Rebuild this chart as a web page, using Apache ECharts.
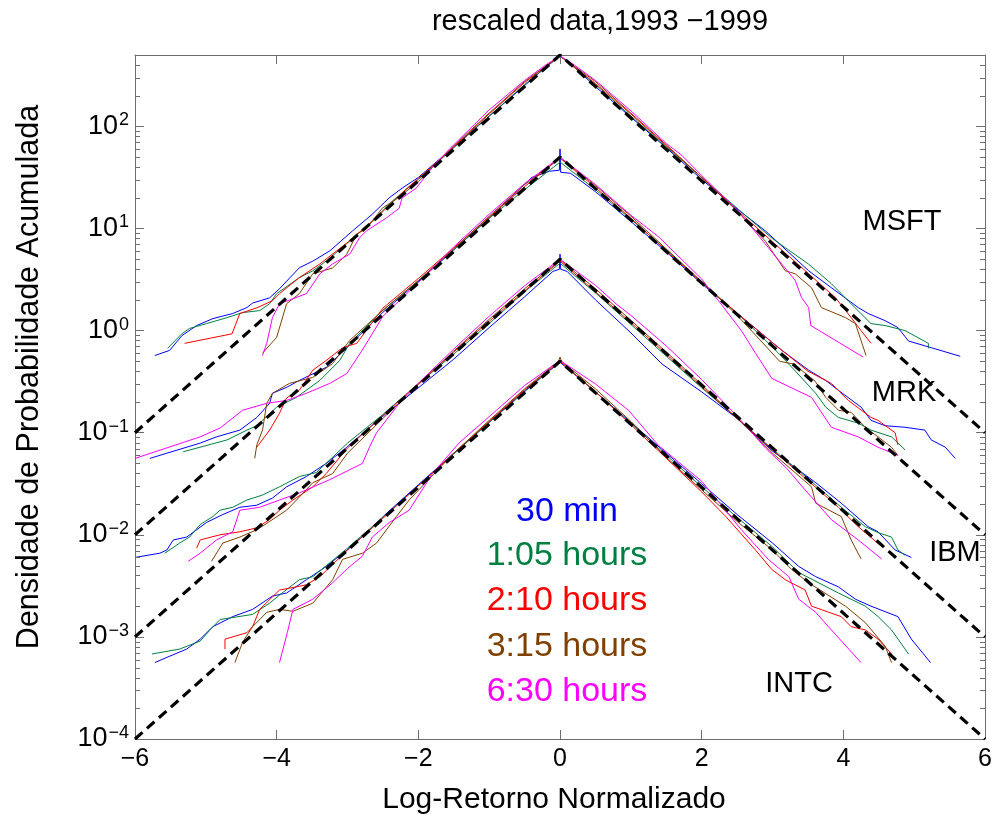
<!DOCTYPE html>
<html><head><meta charset="utf-8">
<script src="https://cdn.jsdelivr.net/npm/echarts@6/dist/echarts.min.js"></script>
<style>html,body{margin:0;padding:0;background:#fff}#c{width:995px;height:819px}</style>
</head><body><div id="c"></div>
<script>
const FONT = '"Liberation Sans", Arial, Helvetica, sans-serif';
const timeScales = ['30 min', '1:05 hours', '2:10 hours', '3:15 hours', '6:30 hours'];
const scaleColors = ['#0000ff', '#008040', '#ff0000', '#804000', '#ff00ff'];
const stocks = ['MSFT', 'MRK', 'IBM', 'INTC'];
const xTickValues = [-6, -4, -2, 0, 2, 4, 6];
const minorMantissas = [2, 3, 4, 5, 6, 7, 8, 9];
const minorDecades = [1e-4, 1e-3, 1e-2, 1e-1, 1, 10, 100];

// MSFT (shifted x1000)
const MSFT_30min = [[-5.72,0.57],[-5.51,0.64],[-5.34,0.89],[-5.13,1.12],[-4.9,1.31],[-4.62,1.47],[-4.42,1.68],[-4.34,1.86],[-4.1,2.09],[-3.96,2.57],[-3.68,4.12],[-3.49,4.79],[-3.25,6.03],[-2.93,9.46],[-2.65,13.8],[-2.41,20],[-2.23,24.8],[-2,31.6],[-1.5,63],[-1,126],[-0.5,251],[-0.2,380],[0,490],[0.2,380],[0.5,245],[1,123],[1.5,61.7],[2,30.2],[2.5,15.5],[2.9,9.46],[3.51,3.85],[3.83,2.63],[4.21,1.68],[4.35,1.47],[4.59,1.25],[4.77,1.07],[4.92,0.79],[5.24,0.68],[5.65,0.56]];
const MSFT_105h = [[-5.54,0.67],[-5.34,0.93],[-5.23,1.05],[-4.99,1.17],[-4.7,1.34],[-4.48,1.5],[-4.24,1.57],[-4.1,1.83],[-4,2.3],[-3.68,3.3],[-3.49,3.85],[-3.3,4.8],[-3.01,7.1],[-2.65,11.8],[-2.37,18.5],[-2,30.2],[-1.5,61.7],[-1,126],[-0.5,257],[0,490],[0.5,257],[1,126],[1.5,63],[2,31.6],[2.5,15.8],[3,7.94],[3.51,4.47],[3.83,2.88],[4.07,1.95],[4.39,1.17],[4.59,1.12],[4.87,1.0],[5.2,0.75],[5.2,0.67]];
const MSFT_210h = [[-5.3,0.75],[-4.63,0.93],[-4.52,1.47],[-4.28,1.67],[-4.06,1.96],[-3.96,2.3],[-3.68,3.3],[-3.39,4.5],[-3.01,7.2],[-2.6,12.6],[-2.2,23.4],[-2,30.9],[-1.5,63],[-1,132],[-0.5,269],[0,490],[0.5,263],[1,132],[1.5,64.6],[2,31.6],[2.5,15.1],[3,7.4],[3.51,3.6],[3.89,2.09],[4.11,1.34],[4.25,1.0],[4.39,0.75]];
const MSFT_315h = [[-4.2,0.6],[-4,0.86],[-3.86,1.83],[-3.68,2.3],[-3.49,3.6],[-3.21,4.1],[-3.01,5.6],[-2.87,8.8],[-2.73,10],[-2.51,15.8],[-2.31,19.4],[-2,28.8],[-1.5,64.6],[-1,135],[-0.5,275],[0,490],[0.5,275],[1,135],[1.5,66],[2,31.6],[2.5,14.8],[2.9,7.5],[3.18,3.85],[3.32,3.6],[3.55,2.63],[3.69,1.68],[4.03,1.34],[4.17,1.17],[4.32,0.57]];
const MSFT_630h = [[-4.2,0.57],[-4.14,0.75],[-4.06,1.34],[-3.96,1.83],[-3.58,2.3],[-3.39,3.6],[-3.21,4.5],[-2.97,5.6],[-2.83,8.1],[-2.73,9.5],[-2.45,12.7],[-2.27,15.8],[-2.23,19.9],[-2.03,24.8],[-1.8,40],[-1.56,60],[-1,145],[-0.5,282],[-0.2,400],[0,490],[0.2,400],[0.5,282],[1,142],[1.5,68],[1.72,52],[2,33],[2.5,15.2],[2.94,6.5],[3.32,3.1],[3.41,2.1],[3.51,1.68],[3.54,1.12],[4.28,0.55]];

// MRK (shifted x100)
const MRK_30min = [[-5.79,0.056],[-5.55,0.063],[-5.08,0.079],[-4.85,0.091],[-4.52,0.106],[-4.28,0.141],[-4.1,0.194],[-4.06,0.243],[-3.86,0.278],[-3.68,0.325],[-3.3,0.437],[-3.01,0.68],[-2.5,1.51],[-2,3.02],[-1.5,6.17],[-1,12.6],[-0.4,31.6],[-0.15,36.3],[-0.01,37.2],[0,60],[0.01,35.5],[0.15,34.7],[0.5,22.9],[1,11.7],[1.5,5.9],[2,2.88],[2.5,1.48],[3.13,0.64],[3.51,0.41],[3.75,0.325],[3.93,0.26],[4.25,0.178],[4.39,0.132],[4.59,0.117],[4.87,0.113],[5.15,0.106],[5.24,0.085],[5.44,0.072],[5.58,0.056]];
const MRK_105h = [[-5.32,0.065],[-4.7,0.085],[-4.42,0.106],[-4.28,0.117],[-4,0.178],[-3.72,0.222],[-3.39,0.325],[-3.11,0.51],[-2.97,0.75],[-2.5,1.58],[-2,3.09],[-1.5,6.17],[-1,12.6],[-0.5,24],[0,44.7],[0.5,24],[1,12.3],[1.5,6.17],[2,2.95],[2.5,1.48],[3,0.69],[3.3,0.417],[3.61,0.243],[3.75,0.178],[3.93,0.141],[4.21,0.124],[4.39,0.106],[4.68,0.091],[4.87,0.068]];
const MRK_210h = [[-4.28,0.072],[-4.1,0.106],[-3.96,0.155],[-3.86,0.219],[-3.68,0.26],[-3.49,0.41],[-3.3,0.51],[-3.07,0.68],[-2.87,0.75],[-2.5,1.66],[-2,3.24],[-1.5,6.46],[-1,12.9],[-0.5,25.7],[0,49],[0.5,25.1],[1,12.6],[1.5,6.03],[2,2.95],[2.5,1.48],[3,0.76],[3.5,0.4],[3.83,0.304],[4.07,0.207],[4.39,0.141],[4.49,0.132],[4.73,0.1],[4.77,0.076]];
const MRK_315h = [[-4.31,0.056],[-4.28,0.076],[-4.2,0.106],[-4.14,0.194],[-4.06,0.243],[-3.82,0.304],[-3.49,0.348],[-3.21,0.476],[-2.97,0.8],[-2.5,1.58],[-2,3.09],[-1.5,6.31],[-1,13.2],[-0.5,26.9],[0,49],[0.5,26.3],[1,13.2],[1.5,6.31],[2,3.02],[2.5,1.41],[2.9,0.71],[3.1,0.5],[3.3,0.47],[3.6,0.32],[3.75,0.222],[3.93,0.166],[4.11,0.158],[4.31,0.113],[4.49,0.091],[4.68,0.072],[4.77,0.06]];
const MRK_630h = [[-6,0.056],[-5.55,0.071],[-5.08,0.091],[-4.8,0.111],[-4.48,0.166],[-4.14,0.194],[-3.86,0.207],[-3.58,0.243],[-3.25,0.304],[-3.01,0.38],[-2.8,0.63],[-2.5,1.38],[-2,2.95],[-1.5,6.61],[-1,13.8],[-0.5,27.5],[0,50],[0.5,27],[1,13.5],[1.39,8.3],[2,3.2],[2.24,1.95],[2.56,1.0],[2.76,0.6],[2.99,0.34],[3.55,0.222],[3.83,0.113],[4.21,0.091],[4.49,0.072],[4.77,0.06]];

// IBM (shifted x10)
const IBM_30min = [[-6,0.006],[-5.65,0.0066],[-5.55,0.0071],[-5.46,0.0089],[-5.27,0.0095],[-4.99,0.0132],[-4.76,0.0158],[-4.52,0.0186],[-4.28,0.0195],[-4.06,0.0229],[-3.86,0.0295],[-3.58,0.0372],[-3.3,0.05],[-3.01,0.072],[-2.73,0.106],[-2.45,0.155],[-2,0.275],[-1.5,0.525],[-1,1.07],[-0.5,2.14],[-0.1,3.8],[-0.01,3.98],[0,5.6],[0.01,3.98],[0.1,3.8],[0.5,2.0],[1,0.95],[1.44,0.47],[2,0.251],[2.5,0.138],[3,0.066],[3.61,0.0324],[3.97,0.0204],[4.35,0.012],[4.49,0.0107],[4.73,0.0071],[4.96,0.006]];
const IBM_105h = [[-5.58,0.0066],[-5.37,0.0083],[-5.23,0.0095],[-5.08,0.0126],[-4.9,0.0151],[-4.8,0.0174],[-4.62,0.0186],[-4.42,0.0219],[-4.2,0.0245],[-3.96,0.0295],[-3.68,0.0372],[-3.44,0.0407],[-3,0.079],[-2.5,0.151],[-2,0.302],[-1.5,0.589],[-1,1.17],[-0.5,2.4],[0,4.57],[0.5,2.34],[1,1.15],[1.5,0.562],[2,0.275],[2.5,0.138],[3,0.069],[3.5,0.0355],[3.97,0.0186],[4.31,0.012],[4.49,0.0105],[4.68,0.0095],[4.77,0.0071],[4.87,0.0063]];
const IBM_210h = [[-5.13,0.0074],[-5.08,0.0089],[-4.8,0.01],[-4.52,0.0107],[-4.28,0.0117],[-4.1,0.0141],[-3.96,0.0174],[-3.77,0.0219],[-3.49,0.0295],[-3.3,0.0398],[-3,0.0708],[-2.5,0.148],[-2,0.302],[-1.5,0.617],[-1,1.23],[-0.5,2.45],[0,4.79],[0.5,2.4],[1,1.2],[1.5,0.589],[2,0.282],[2.5,0.138],[3,0.0676],[3.5,0.0339],[3.93,0.0186],[4.21,0.012],[4.52,0.0079]];
const IBM_315h = [[-4.92,0.0055],[-4.76,0.0083],[-4.52,0.0095],[-4.28,0.0112],[-4.1,0.0135],[-3.86,0.0174],[-3.68,0.0234],[-3.49,0.0324],[-3.21,0.0398],[-3,0.063],[-2.5,0.138],[-2,0.295],[-1.5,0.631],[-1,1.29],[-0.5,2.57],[0,4.9],[0.5,2.57],[1,1.26],[1.5,0.617],[2,0.295],[2.5,0.138],[3,0.063],[3.55,0.0295],[3.61,0.0204],[3.97,0.0151],[4.11,0.0089],[4.25,0.0058]];
const IBM_630h = [[-5.25,0.0055],[-5.08,0.0066],[-4.85,0.0089],[-4.62,0.0107],[-4.52,0.0174],[-4.24,0.0186],[-3.96,0.0219],[-3.68,0.0257],[-3.25,0.0347],[-2.79,0.05],[-2.69,0.072],[-2.59,0.1],[-2.2,0.224],[-1.5,0.66],[-1,1.38],[-0.5,2.75],[0,5.0],[0.5,2.78],[0.79,1.83],[1,1.41],[1.5,0.708],[2,0.331],[2.5,0.145],[2.9,0.0708],[3.2,0.0447],[3.46,0.0275],[3.83,0.0141],[4.21,0.0089],[4.54,0.0058]];

// INTC (unshifted)
const INTC_30min = [[-5.72,0.00056],[-5.55,0.00063],[-5.27,0.00076],[-5.08,0.00095],[-4.9,0.00126],[-4.62,0.00158],[-4.34,0.00186],[-4.06,0.00251],[-3.86,0.00269],[-3.58,0.00363],[-3.3,0.0049],[-3.01,0.00708],[-2.73,0.0105],[-2.45,0.0162],[-2,0.0309],[-1.5,0.063],[-1,0.126],[-0.5,0.257],[0,0.49],[0.5,0.251],[1,0.126],[1.5,0.063],[2,0.0316],[2.5,0.0158],[3,0.0083],[3.37,0.0049],[3.61,0.00389],[3.93,0.00309],[4.17,0.00234],[4.39,0.002],[4.77,0.00158],[4.96,0.00095],[5.23,0.00056]];
const INTC_105h = [[-5.76,0.00068],[-5.37,0.00076],[-5.08,0.00091],[-4.94,0.00117],[-4.8,0.00148],[-4.34,0.00166],[-4.1,0.00214],[-3.96,0.00257],[-3.68,0.00363],[-3.49,0.00389],[-3,0.0074],[-2.5,0.0148],[-2,0.0302],[-1.5,0.0617],[-1,0.126],[-0.5,0.251],[0,0.5],[0.5,0.251],[1,0.123],[1.5,0.0603],[2,0.0295],[2.5,0.0148],[3,0.0076],[3.37,0.00427],[3.93,0.00269],[4.31,0.002],[4.49,0.00158],[4.68,0.00117],[4.92,0.00068]];
const INTC_210h = [[-4.73,0.00076],[-4.73,0.00095],[-4.42,0.0011],[-4.34,0.00126],[-4.24,0.00186],[-3.96,0.00288],[-3.72,0.00309],[-3.58,0.00324],[-3.39,0.00389],[-3,0.00708],[-2.5,0.0145],[-2,0.0302],[-1.5,0.063],[-1,0.129],[-0.5,0.263],[0,0.5],[0.5,0.251],[1,0.12],[1.5,0.0562],[2,0.0263],[2.34,0.0151],[2.76,0.00708],[2.99,0.00457],[3.18,0.00363],[3.46,0.00288],[3.55,0.002],[3.97,0.00158],[4.11,0.00126],[4.31,0.00117],[4.49,0.00095],[4.68,0.00068]];
const INTC_315h = [[-4.59,0.00056],[-4.48,0.00089],[-4.34,0.00126],[-4.14,0.00174],[-3.96,0.00186],[-3.77,0.00178],[-3.49,0.00214],[-3.21,0.00363],[-3.07,0.00575],[-2.79,0.0066],[-2.59,0.0083],[-2.31,0.0151],[-2.13,0.0219],[-1.5,0.063],[-1,0.132],[-0.5,0.269],[-0.02,0.5],[0,0.55],[0.02,0.5],[0.5,0.269],[1,0.129],[1.5,0.0575],[2,0.0275],[2.5,0.0135],[3,0.00708],[3.27,0.00457],[3.51,0.00339],[4.03,0.002],[4.31,0.00138],[4.59,0.00081],[4.68,0.00056]];
const INTC_630h = [[-3.96,0.00056],[-3.85,0.0011],[-3.77,0.00186],[-3.49,0.00234],[-3.21,0.00339],[-3,0.00468],[-2.79,0.00617],[-2.65,0.0095],[-2.41,0.0132],[-2.13,0.0174],[-1.8,0.0398],[-1.42,0.08],[-0.9,0.165],[-0.5,0.29],[0,0.51],[0.5,0.3],[0.97,0.165],[1.39,0.075],[2,0.0335],[2.56,0.0112],[2.94,0.00575],[3.23,0.00389],[3.37,0.00234],[3.61,0.00174],[3.83,0.00117],[4.25,0.00056]];

// exponential (Laplace) reference lines, read at the axis edges and peak
const dash_MSFT = [[-6,0.1],[0,500],[6,0.1]];
const dash_MRK = [[-6,0.01],[0,50],[6,0.01]];
const dash_IBM = [[-6,0.001],[0,5],[6,0.001]];
const dash_INTC = [[-6,0.0001],[0,0.5],[6,0.0001]];

const curves = {
  MSFT: [MSFT_30min, MSFT_105h, MSFT_210h, MSFT_315h, MSFT_630h],
  MRK: [MRK_30min, MRK_105h, MRK_210h, MRK_315h, MRK_630h],
  IBM: [IBM_30min, IBM_105h, IBM_210h, IBM_315h, IBM_630h],
  INTC: [INTC_30min, INTC_105h, INTC_210h, INTC_315h, INTC_630h]
};
const dashed = [dash_MSFT, dash_MRK, dash_IBM, dash_INTC];

const minorTicks = [];
minorDecades.forEach(d => minorMantissas.forEach(m => { const v = m * d; if (v < 500.5) minorTicks.push([0, v]); }));

const axisGray = '#6e6e6e';
const series = [];
stocks.forEach(s => {
  curves[s].forEach((data, i) => {
    series.push({
      name: s + ' ' + timeScales[i], type: 'line', data: data, showSymbol: false, symbol: 'none',
      lineStyle: { color: scaleColors[i], width: 1 }, z: 2 + i, silent: true
    });
  });
});
dashed.forEach((data, k) => {
  series.push({
    name: 'fit ' + stocks[k], type: 'line', data: data, showSymbol: false, symbol: 'none',
    lineStyle: { color: '#000', width: 3.2, type: [10, 6] }, z: 10, silent: true
  });
});
series.push({
  type: 'custom', name: 'minor ticks', data: minorTicks, encode: { x: 0, y: 1 }, clip: false, silent: true, z: 20,
  renderItem: function (params, api) {
    const v = api.value(1);
    const pl = api.coord([-6, v]);
    const pr = api.coord([6, v]);
    const y = Math.round(pl[1]) + 0.5;
    return { type: 'group', children: [
      { type: 'line', shape: { x1: pl[0], y1: y, x2: pl[0] + 5, y2: y }, style: { stroke: axisGray, lineWidth: 1 } },
      { type: 'line', shape: { x1: pr[0], y1: y, x2: pr[0] - 5, y2: y }, style: { stroke: axisGray, lineWidth: 1 } }
    ] };
  }
});

function xLabel(v) { return v < 0 ? '\u2212' + Math.abs(v) : String(v); }
function yLabel(v) {
  const e = Math.log10(v);
  const r = Math.round(e);
  if (Math.abs(e - r) > 1e-6) return '';
  return '{b|10}{e|' + (r < 0 ? '\u2212' + (-r) : r) + '}';
}
const xCommon = { type: 'value', min: -6, max: 6, interval: 2, splitLine: { show: false },
  axisLine: { show: true, onZero: false, lineStyle: { color: axisGray, width: 1 } },
  axisTick: { show: true, inside: true, length: 9, lineStyle: { color: axisGray } } };
const yCommon = { type: 'log', logBase: 10, min: 1e-4, max: 500, splitNumber: 7, splitLine: { show: false },
  axisLine: { show: true, onZero: false, lineStyle: { color: axisGray, width: 1 } },
  axisTick: { show: true, inside: true, length: 9, lineStyle: { color: axisGray } } };

const legendY = [512, 556, 601, 647, 692];
const txt = (x, y, text, size, color, extra) => Object.assign({ type: 'text', x: x, y: y, z: 100,
  style: { text: text, fill: color, fontSize: size, fontFamily: FONT, align: 'center', verticalAlign: 'middle', textAlign: 'center', textVerticalAlign: 'middle' } }, extra || {});
const graphic = [
  txt(600, 22, 'rescaled data,1993 \u22121999', 29, '#000'),
  txt(554, 800, 'Log-Retorno Normalizado', 30, '#000'),
  txt(30, 377, 'Densidade de Probabilidade Acumulada', 30.5, '#000', { rotation: Math.PI / 2 }),
  txt(902, 222, 'MSFT', 29, '#000'),
  txt(904, 393, 'MRK', 29, '#000'),
  txt(955, 553, 'IBM', 29, '#000'),
  txt(799, 684, 'INTC', 29, '#000')
];
timeScales.forEach((t, i) => { graphic.push(txt(567, legendY[i], t, 34, scaleColors[i])); });

const chart = echarts.init(document.getElementById('c'), null, { renderer: 'canvas' });
chart.setOption({
  animation: false,
  backgroundColor: '#fff',
  textStyle: { fontFamily: FONT },
  grid: { left: 135, right: 8, top: 55, bottom: 80, containLabel: false },
  xAxis: [
    Object.assign({}, xCommon, { position: 'bottom', axisLabel: { show: true, formatter: xLabel, fontSize: 25, color: '#000', margin: 8, fontFamily: FONT } }),
    Object.assign({}, xCommon, { position: 'top', axisLabel: { show: false } })
  ],
  yAxis: [
    Object.assign({}, yCommon, { position: 'left', axisLabel: { show: true, formatter: yLabel, margin: 6, color: '#000',
      rich: { b: { fontSize: 27, fontFamily: FONT, color: '#000', lineHeight: 30, verticalAlign: 'middle' },
              e: { fontSize: 18, fontFamily: FONT, color: '#000', lineHeight: 30, verticalAlign: 'top', padding: [0, 0, 14, 1] } } } }),
    Object.assign({}, yCommon, { position: 'right', axisLabel: { show: false } })
  ],
  graphic: graphic,
  series: series
});
</script>
</body></html>
